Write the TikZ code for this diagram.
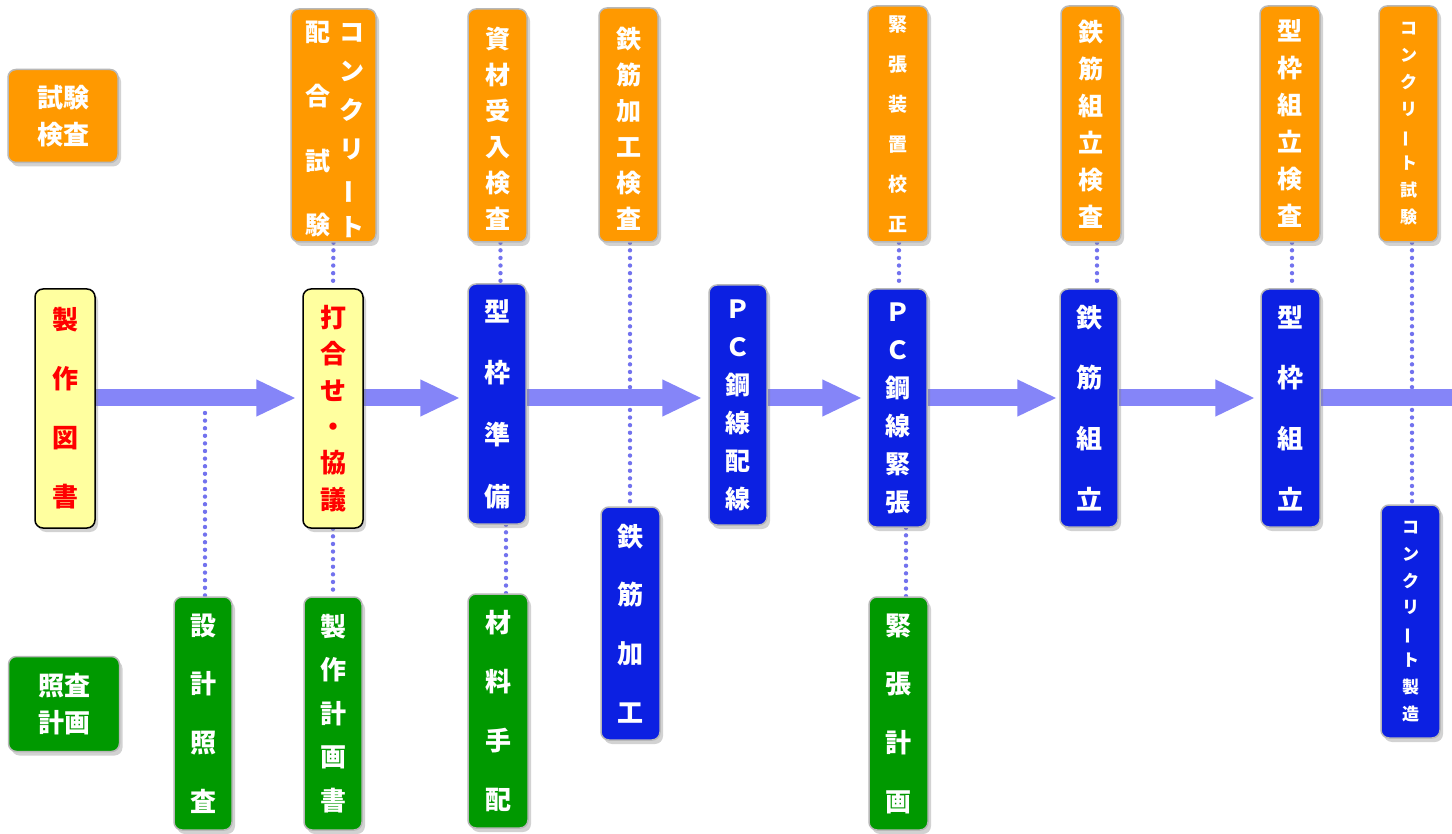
\documentclass[tikz,border=0pt]{standalone}
\usepackage{fontspec}
\usepackage{graphicx}
\newfontfamily\jp{Noto Sans CJK JP}
\usetikzlibrary{shadows,arrows.meta,backgrounds}
\definecolor{cOrange}{HTML}{FF9900}
\definecolor{cBlue}{HTML}{0C20E2}
\definecolor{cGreen}{HTML}{009900}
\definecolor{cYellow}{HTML}{FFFF9F}
\definecolor{cArrow}{HTML}{8585F8}
\definecolor{cDot}{HTML}{7272EE}
\newcommand\jpsz[2]{\fontsize{#1}{#2}\selectfont}
\newcommand\vbarch{\rotatebox[origin=c]{90}{ー}}
\tikzset{
  boxbase/.style={rounded corners=8pt, draw=black!28, line width=1.5pt, inner sep=0pt,
    align=center, text=white,
    drop shadow={shadow xshift=3pt, shadow yshift=-4pt, opacity=0.35}},
  obox/.style={boxbase, fill=cOrange},
  bbox/.style={boxbase, fill=cBlue},
  gbox/.style={boxbase, fill=cGreen},
  ybox/.style={boxbase, fill=cYellow, draw=black, text=red},
  txt/.style={inner sep=0pt, align=center, text=white},
  bigarrow/.style={draw=cArrow, line width=17pt, -{Triangle[length=40pt,width=34pt]}},
  dotline/.style={draw=cDot, line width=4.4pt, line cap=round, dash pattern=on 0pt off 7.6pt},
}
\begin{document}
\begin{tikzpicture}[x=1pt,y=-1pt,font=\jp\bfseries]
\useasboundingbox (0,0) rectangle (1452,834);

% legend
\node[obox, minimum width=110pt, minimum height=93pt, font=\jp\bfseries\jpsz{26}{37}] (kensa) at (63,116) {試験\\検査};
\node[gbox, minimum width=111pt, minimum height=95pt, font=\jp\bfseries\jpsz{26}{37}] (shousa) at (64,704) {照査\\計画};

% top row (inspections)
\node[obox, minimum width=85pt, minimum height=233pt] (haigo) at (333.5,125.5) {};
\node[txt, font=\jp\bfseries\jpsz{25}{64.3}] (haigoL) at (318,129) {配\\合\\試\\験};
\node[txt, font=\jp\bfseries\jpsz{25}{39}] (haigoR) at (352,131) {コ\\ン\\ク\\リ\\\vbarch\\ト};
\node[obox, minimum width=59pt, minimum height=233pt] (shizai) at (497.5,125.5) {};
\node[txt, font=\jp\bfseries\jpsz{25}{36}] (shizaiT) at (497.5,129) {資\\材\\受\\入\\検\\査};
\node[obox, minimum width=59pt, minimum height=234pt] (kakouK) at (628.5,125) {};
\node[txt, font=\jp\bfseries\jpsz{25}{36}] (kakouKT) at (628.5,129) {鉄\\筋\\加\\工\\検\\査};
\node[obox, minimum width=60pt, minimum height=236pt, font=\jp\bfseries\jpsz{19}{40}] (kinchoK) at (898,124) {緊\\張\\装\\置\\校\\正};
\node[obox, minimum width=60pt, minimum height=236pt, font=\jp\bfseries\jpsz{25}{37}] (kumiK) at (1091,124) {鉄\\筋\\組\\立\\検\\査};
\node[obox, minimum width=60pt, minimum height=236pt, font=\jp\bfseries\jpsz{25}{37}] (kataK) at (1290,124) {型\\枠\\組\\立\\検\\査};
\node[obox, minimum width=59pt, minimum height=236pt, font=\jp\bfseries\jpsz{17}{27}] (concK) at (1408.5,124) {コ\\ン\\ク\\リ\\\vbarch\\ト\\試\\験};

% middle row (main flow)
\node[ybox, minimum width=60pt, minimum height=239pt, font=\jp\bfseries\jpsz{26}{59}] (zusho) at (65,408.5) {製\\作\\図\\書};
\node[ybox, minimum width=60pt, minimum height=239pt, font=\jp\bfseries\jpsz{26}{36.4}] (uchi) at (333,408.5) {打\\合\\せ\\・\\協\\議};
\node[bbox, minimum width=58pt, minimum height=240pt, font=\jp\bfseries\jpsz{26}{61.7}] (katajun) at (497,404) {型\\枠\\準\\備};
\node[bbox, minimum width=58pt, minimum height=240pt, font=\jp\bfseries\jpsz{25}{38}] (pchai) at (738,405) {Ｐ\\Ｃ\\鋼\\線\\配\\線};
\node[bbox, minimum width=59pt, minimum height=238pt, font=\jp\bfseries\jpsz{25}{38}] (pcten) at (897.5,408) {Ｐ\\Ｃ\\鋼\\線\\緊\\張};
\node[bbox, minimum width=58pt, minimum height=238pt, font=\jp\bfseries\jpsz{26}{60.7}] (tekkumi) at (1089,408) {鉄\\筋\\組\\立};
\node[bbox, minimum width=59pt, minimum height=238pt, font=\jp\bfseries\jpsz{26}{60.7}] (katakumi) at (1290.5,408) {型\\枠\\組\\立};

% bottom row
\node[bbox, minimum width=59pt, minimum height=233pt, font=\jp\bfseries\jpsz{26}{58.7}] (tekkak) at (630.5,623.5) {鉄\\筋\\加\\工};
\node[bbox, minimum width=59pt, minimum height=233pt, font=\jp\bfseries\jpsz{17}{26.6}] (concS) at (1410.5,621.5) {コ\\ン\\ク\\リ\\\vbarch\\ト\\製\\造};
\node[gbox, minimum width=58pt, minimum height=233pt, font=\jp\bfseries\jpsz{26}{58.7}] (sekkei) at (203,713.5) {設\\計\\照\\査};
\node[gbox, minimum width=58pt, minimum height=233pt, font=\jp\bfseries\jpsz{26}{43.5}] (seisaku) at (333,713.5) {製\\作\\計\\画\\書};
\node[gbox, minimum width=60pt, minimum height=234pt, font=\jp\bfseries\jpsz{26}{59.3}] (zairyo) at (498,711) {材\\料\\手\\配};
\node[gbox, minimum width=59pt, minimum height=233pt, font=\jp\bfseries\jpsz{26}{58.7}] (kinchoP) at (898.5,713.5) {緊\\張\\計\\画};

\coordinate (lvl) at (0,398);
\coordinate (d1) at (205,413);
\coordinate (endR) at (1452,398);

\begin{scope}[on background layer]
  \fill[white] (0,0) rectangle (1452,834);
  % dotted links
  \draw[dotline] (d1) -- (d1 |- sekkei.north);
  \draw[dotline] (haigo.south) -- (uchi.north);
  \draw[dotline] (uchi.south) -- (seisaku.north);
  \draw[dotline] ([xshift=3pt]shizai.south) -- ([xshift=3pt]shizai.south |- katajun.north);
  \draw[dotline] ([xshift=9pt]katajun.south) -- ([xshift=9pt]katajun.south |- zairyo.north);
  \draw[dotline] ([xshift=1.5pt]kakouK.south) -- ([xshift=1.5pt]kakouK.south |- tekkak.north);
  \draw[dotline] ([xshift=1pt]kinchoK.south) -- ([xshift=1pt]kinchoK.south |- pcten.north);
  \draw[dotline] ([xshift=8.5pt]pcten.south) -- ([xshift=8.5pt]pcten.south |- kinchoP.north);
  \draw[dotline] ([xshift=6pt]kumiK.south) -- ([xshift=6pt]kumiK.south |- tekkumi.north);
  \draw[dotline] ([xshift=2pt]kataK.south) -- ([xshift=2pt]kataK.south |- katakumi.north);
  \draw[dotline] ([xshift=3.5pt]concK.south) -- ([xshift=3.5pt]concK.south |- concS.north);
  % flow arrows
  \draw[bigarrow, shorten >=6pt] (zusho.east |- lvl) -- (uchi.west |- lvl);
  \draw[bigarrow, shorten >=7pt] (uchi.east |- lvl) -- (katajun.west |- lvl);
  \draw[bigarrow, shorten >=6pt] (katajun.east |- lvl) -- (pchai.west |- lvl);
  \draw[bigarrow, shorten >=5pt] (pchai.east |- lvl) -- (pcten.west |- lvl);
  \draw[bigarrow, shorten >=2pt] (pcten.east |- lvl) -- (tekkumi.west |- lvl);
  \draw[bigarrow, shorten >=5pt] (tekkumi.east |- lvl) -- (katakumi.west |- lvl);
  \draw[draw=cArrow, line width=17pt] (katakumi.east |- lvl) -- (endR);
\end{scope}
\end{tikzpicture}
\end{document}
